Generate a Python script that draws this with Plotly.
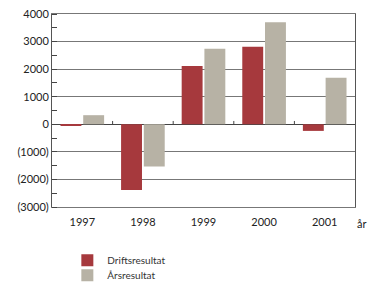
import plotly.graph_objects as go

years = ["1997", "1998", "1999", "2000", "2001"]
drift = [-60, -2380, 2110, 2815, -240]
ars = [330, -1530, 2740, 3700, 1690]
ytick_vals = [-3000, -2000, -1000, 0, 1000, 2000, 3000, 4000]
ytick_text = ["(3000)", "(2000)", "(1000)", "0", "1000", "2000", "3000", "4000"]

font_family = "Lato, 'Open Sans', sans-serif"

fig = go.Figure()
fig.add_trace(go.Bar(x=years, y=drift, name="Driftsresultat", marker_color="#a6393d",
                     marker_line_width=0, legend="legend"))
fig.add_trace(go.Bar(x=years, y=ars, name="Årsresultat", marker_color="#b7b2a5",
                     marker_line_width=0, legend="legend2"))

shapes = []
for i in range(len(years) - 1):
    shapes.append(dict(type="line", xref="x", yref="y", x0=i + 0.5, x1=i + 0.5,
                       y0=0, y1=120, line=dict(color="#444", width=1)))

leg_common = dict(xref="container", yref="container", x=0.182,
                  xanchor="left", yanchor="top",
                  font=dict(size=10, color="#333"), tracegroupgap=0,
                  itemwidth=30, bgcolor="rgba(0,0,0,0)")

fig.update_layout(
    width=370, height=283,
    margin=dict(l=52, r=15, t=14, b=76, autoexpand=False),
    paper_bgcolor="white", plot_bgcolor="white",
    barmode="group", bargap=0.25, bargroupgap=0.08,
    font=dict(family=font_family, size=11, color="#222"),
    showlegend=True,
    legend=dict(y=0.132, **leg_common),
    legend2=dict(y=0.079, **leg_common),
    shapes=shapes,
    annotations=[dict(text="år", xref="paper", yref="paper", x=1.038, y=-0.045,
                      xanchor="right", yanchor="top", showarrow=False,
                      borderpad=0, font=dict(size=11, color="#222"))],
)
fig.update_xaxes(showline=True, linecolor="#777", mirror=True, ticks="",
                 showgrid=False, tickfont=dict(size=11), automargin=False,
                 ticklabelstandoff=5)
fig.update_yaxes(range=[-3000, 4000], tickvals=ytick_vals, ticktext=ytick_text,
                 showline=True, linecolor="#555", mirror=True,
                 showgrid=True, gridcolor="#777", gridwidth=1,
                 zeroline=True, zerolinecolor="#444", zerolinewidth=1,
                 ticks="", tickfont=dict(size=11), automargin=False,
                 ticklabeloverflow="allow",
                 minor=dict(ticks="inside", dtick=500, ticklen=5, tickcolor="#444",
                            showgrid=False))

fig.write_html("out.html", config={"displayModeBar": False},
               post_script="document.body.style.margin='0';document.body.style.overflow='hidden';")
